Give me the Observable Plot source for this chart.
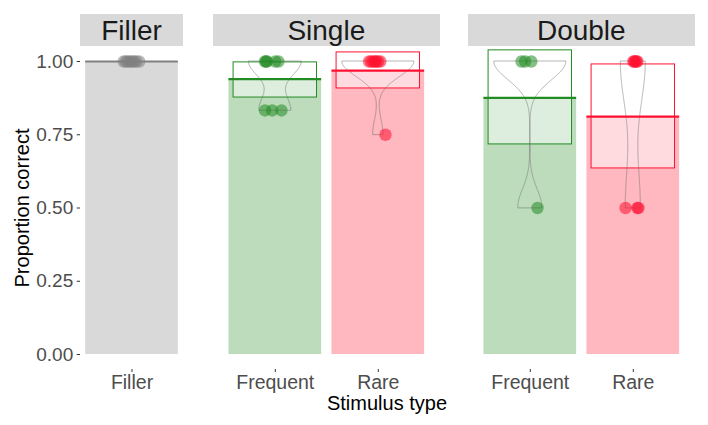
<!DOCTYPE html>
<html><head><meta charset="utf-8">
<script src="https://cdn.jsdelivr.net/npm/d3@7"></script>
<script src="https://cdn.jsdelivr.net/npm/@observablehq/plot@0.6"></script>
<style>
body{margin:0;background:#fff;}
#chart{position:relative;width:708px;height:425px;font-family:"Liberation Sans",Arial,sans-serif;overflow:hidden;background:#fff}
.strip{position:absolute;top:14px;height:32px;background:#d9d9d9;color:#1a1a1a;font-size:28px;line-height:33px;text-align:center}
.panel{position:absolute;top:0}
.title{position:absolute;font-size:20px;line-height:1;color:#000;white-space:nowrap}
</style></head><body><div id="chart"></div>
<script>
// ---- data ----
const facets = ["Filler", "Single", "Double"];
const facetCategories = [["Filler"], ["Frequent", "Rare"], ["Frequent", "Rare"]];
const groupFacet = ["Filler", "Single", "Single", "Double", "Double"];
const groupType = ["Filler", "Frequent", "Rare", "Frequent", "Rare"];
const groupMean = [1.0, 0.94, 0.969, 0.876, 0.812];
const ciLow = [1.0, 0.877, 0.908, 0.717, 0.635];
const ciHigh = [1.0, 0.997, 1.031, 1.038, 0.99];
const groupColor = ["#808080", "#228b22", "#ff1030", "#228b22", "#ff1030"];
const pointValues = [
  [1, 1, 1, 1, 1, 1, 1, 1],
  [1, 1, 1, 1, 1, 0.833, 0.833, 0.833],
  [1, 1, 1, 1, 1, 1, 1, 0.75],
  [1, 1, 1, 0.5],
  [1, 1, 1, 1, 1, 0.5, 0.5, 0.5]
];
const pointJitter = [
  [-0.08, -0.06, -0.04, -0.02, 0, 0.02, 0.04, 0.07],
  [-0.10, -0.09, -0.08, 0.0, 0.03, -0.10, -0.03, 0.06],
  [-0.09, -0.07, -0.05, -0.03, -0.02, 0.0, 0.02, 0.07],
  [-0.085, -0.05, 0.01, 0.07],
  [0.0, 0.01, 0.02, 0.03, 0.04, -0.075, 0.04, 0.05]
];
const yTicks = [0, 0.25, 0.5, 0.75, 1];

// ---- layout ----
const panelLeft = [80, 213, 468];
const unitPx = 103;
const panelTop = 47, panelBottom = 369, H = 425;
const yDomain = [-0.0512, 1.0478];

function bwNrd0(x) {
  const hi = d3.deviation(x);
  const iqr = d3.quantile(x, 0.75) - d3.quantile(x, 0.25);
  let lo = Math.min(hi, iqr / 1.34);
  if (!lo) lo = hi || Math.abs(x[0]) || 1;
  return 0.9 * lo * Math.pow(x.length, -0.2);
}
function density(x) {
  const mn = d3.min(x), mx = d3.max(x);
  if (mn === mx) return [];
  const bw = bwNrd0(x), n = x.length, out = [];
  for (let i = 0; i < 512; i++) {
    const y = mn + (mx - mn) * i / 511;
    let s = 0;
    for (const v of x) { const u = (y - v) / bw; s += Math.exp(-0.5 * u * u); }
    out.push({y, d: s / (n * bw * Math.sqrt(2 * Math.PI))});
  }
  return out;
}

const chart = document.getElementById("chart");

facets.forEach((f, fi) => {
  const cats = facetCategories[fi];
  const idx = groupFacet.map((g, i) => g === f ? i : -1).filter(i => i >= 0);
  const groups = idx.map(i => ({
    pos: cats.indexOf(groupType[i]) + 1,
    mean: groupMean[i], lo: ciLow[i], hi: ciHigh[i], color: groupColor[i],
    dens: density(pointValues[i]),
    points: pointValues[i].map((v, k) => ({v, j: pointJitter[i][k]}))
  }));
  const maxD = d3.max(groups.flatMap(g => g.dens.map(p => p.d))) || 1;
  const xDomain = cats.length === 1 ? [0.5, 1.5] : [0.4, cats.length + 0.6];
  const pw = (xDomain[1] - xDomain[0]) * unitPx;
  const ml = fi === 0 ? 80 : 0;
  const marks = [];
  for (const g of groups) {
    marks.push(Plot.rect([g], {x1: d => d.pos - 0.45, x2: d => d.pos + 0.45, y1: () => 0, y2: "mean", fill: g.color, fillOpacity: 0.3}));
    if (g.hi > g.lo) {
      marks.push(Plot.rect([g], {x1: d => d.pos - 0.405, x2: d => d.pos + 0.405, y1: "lo", y2: "hi", fill: "white", fillOpacity: 0.5, stroke: g.color, strokeWidth: 1}));
    }
    if (g.dens.length) {
      marks.push(Plot.areaX(g.dens, {
        x1: p => g.pos - 0.35 * p.d / maxD, x2: p => g.pos + 0.35 * p.d / maxD, y: "y",
        fill: "none", stroke: "#707070", strokeOpacity: 0.65, strokeWidth: 0.8
      }));
    }
    marks.push(Plot.ruleY([g], {x1: d => d.pos - 0.45, x2: d => d.pos + 0.45, y: "mean", stroke: g.color, strokeWidth: 2.2}));
    marks.push(Plot.dot(g.points, {x: p => g.pos + p.j, y: "v", r: 6.2, fill: g.color, fillOpacity: 0.55, stroke: "none"}));
  }
  marks.push(Plot.axisX(cats.map((c, i) => i + 1), {tickFormat: i => cats[i - 1], tickSize: 3, tickPadding: 3, fontSize: 19.5, fill: "#4d4d4d", stroke: "#333", label: null}));
  if (fi === 0) {
    marks.push(Plot.axisY(yTicks, {tickFormat: d3.format(".2f"), tickSize: 3.3, tickPadding: 4, fontSize: 19, fill: "#4d4d4d", stroke: "#333", label: null}));
  }
  const svg = Plot.plot({
    width: ml + pw, height: H,
    marginTop: panelTop, marginBottom: H - panelBottom, marginLeft: ml, marginRight: 0,
    x: {domain: xDomain, axis: null},
    y: {domain: yDomain, axis: null},
    style: {background: "transparent", overflow: "visible", fontFamily: '"Liberation Sans", Arial, sans-serif'},
    marks
  });
  const wrap = document.createElement("div");
  wrap.className = "panel";
  wrap.style.left = (panelLeft[fi] - ml) + "px";
  wrap.appendChild(svg);
  chart.appendChild(wrap);

  const strip = document.createElement("div");
  strip.className = "strip";
  strip.style.left = panelLeft[fi] + "px";
  strip.style.width = pw + "px";
  strip.textContent = f;
  chart.appendChild(strip);
});

const yt = document.createElement("div");
yt.className = "title";
yt.textContent = "Proportion correct";
yt.style.left = "22px"; yt.style.top = "208px";
yt.style.transform = "translate(-50%,-50%) rotate(-90deg)";
chart.appendChild(yt);

const xt = document.createElement("div");
xt.className = "title";
xt.textContent = "Stimulus type";
xt.style.left = "387px"; xt.style.top = "403px";
xt.style.transform = "translate(-50%,-50%)";
chart.appendChild(xt);
</script></body></html>
